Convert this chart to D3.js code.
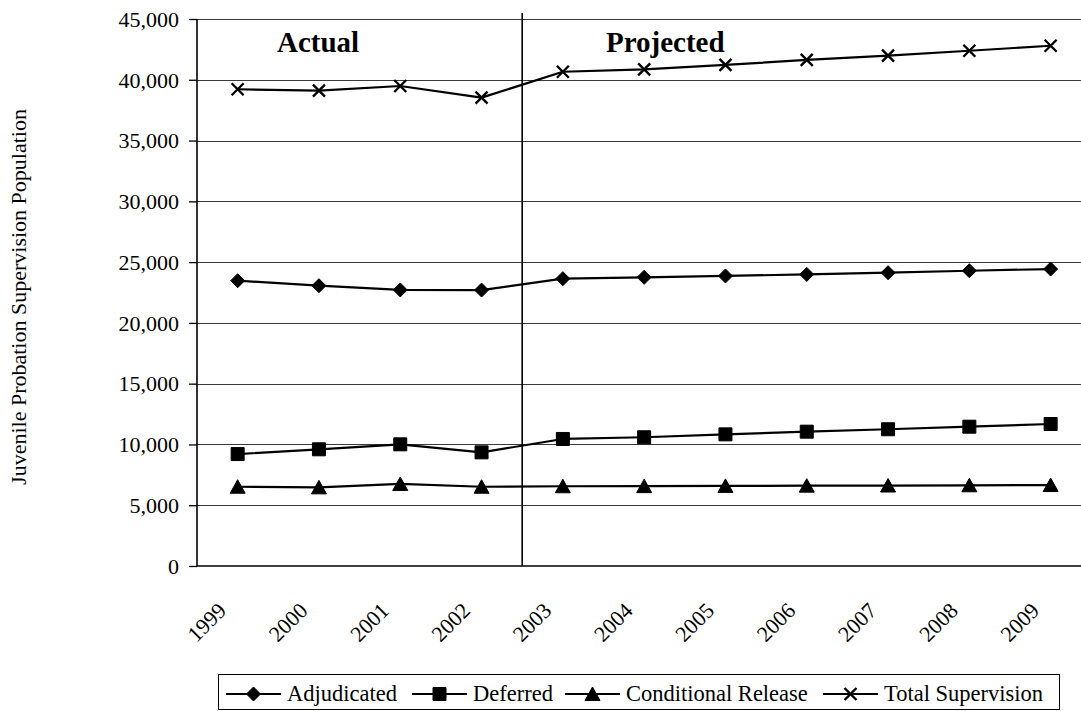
<!DOCTYPE html>
<html>
<head>
<meta charset="utf-8">
<script src="https://cdn.jsdelivr.net/npm/d3@7"></script>
<style>
  html, body { margin: 0; padding: 0; background: #fff; }
  svg { display: block; }
  svg text { font-family: "Liberation Serif", "Times New Roman", serif !important; }
</style>
</head>
<body>
<svg id="chart" width="1081" height="711"></svg>
<script>
// ---- data ----
const years = ["1999","2000","2001","2002","2003","2004","2005","2006","2007","2008","2009"];
const adjudicated = [23470, 23060, 22710, 22700, 23640, 23750, 23860, 23990, 24130, 24290, 24430];
const deferred    = [9210, 9600, 10010, 9350, 10450, 10590, 10830, 11050, 11250, 11460, 11680];
const conditional = [6520, 6470, 6750, 6520, 6560, 6570, 6590, 6610, 6620, 6640, 6660];
const total       = [39220, 39100, 39490, 38530, 40660, 40860, 41220, 41630, 41980, 42390, 42800];
const yTicks = [0, 5000, 10000, 15000, 20000, 25000, 30000, 35000, 40000, 45000];
const seriesNames = ["Adjudicated", "Deferred", "Conditional Release", "Total Supervision"];
const seriesMarkers = ["diamond", "square", "triangle", "cross"];
const periodLabels = ["Actual", "Projected"];
const dividerYear = "2003";
const yTitle = "Juvenile Probation Supervision Population";

const seriesData = [adjudicated, deferred, conditional, total];

// ---- layout ----
const FONT = "'Liberation Serif', 'Times New Roman', serif";
const svg = d3.select("#chart");
const plotLeft = 197, plotTop = 19, plotBottom = 566, band = 81.3;
const x = d3.scaleBand().domain(years).range([plotLeft, plotLeft + band * years.length]).padding(0);
const y = d3.scaleLinear().domain([0, 45000]).range([plotBottom, plotTop]);
const cx = d => x(d) + x.bandwidth() / 2;

const g = svg.append("g");

// gridlines
g.append("g").selectAll("line").data(yTicks.filter(v => v > 0)).join("line")
  .attr("x1", plotLeft).attr("x2", x.range()[1])
  .attr("y1", d => Math.round(y(d)) + 0.5).attr("y2", d => Math.round(y(d)) + 0.5)
  .attr("stroke", "#3a3a3a").attr("stroke-width", 1.1);

// y axis
const yAxis = d3.axisLeft(y).tickValues(yTicks).tickFormat(d3.format(",")).tickSize(8).tickPadding(10);
const ya = g.append("g").attr("transform", `translate(${plotLeft},0)`).call(yAxis)
  .attr("font-family", null).attr("font-size", null);
ya.select(".domain").remove();
ya.selectAll(".tick line").attr("stroke", "#000").attr("stroke-width", 1.3);
ya.selectAll(".tick text").style("font-family", FONT).style("font-size", "22px")
  .attr("fill", "#000").attr("dy", "0.33em");

// axis lines
g.append("line").attr("x1", plotLeft).attr("x2", plotLeft).attr("y1", plotTop).attr("y2", plotBottom)
  .attr("stroke", "#000").attr("stroke-width", 1.6);
g.append("line").attr("x1", plotLeft).attr("x2", x.range()[1]).attr("y1", plotBottom).attr("y2", plotBottom)
  .attr("stroke", "#000").attr("stroke-width", 1.6);

// divider between actual and projected
g.append("line").attr("x1", x(dividerYear)).attr("x2", x(dividerYear))
  .attr("y1", 13).attr("y2", plotBottom).attr("stroke", "#000").attr("stroke-width", 1.6);

// x labels
const xa = d3.axisBottom(x).tickSize(0).tickPadding(0);
const xg = g.append("g").attr("transform", `translate(0,${plotBottom})`).call(xa)
  .attr("font-family", null).attr("font-size", null);
xg.select(".domain").remove();
xg.selectAll(".tick text")
  .style("font-family", FONT).style("font-size", "22px").attr("fill", "#000")
  .attr("text-anchor", "end")
  .attr("dy", 0).attr("y", 0)
  .attr("transform", "translate(-10,46) rotate(-45)");

// period labels
g.append("text").attr("x", 277).attr("y", 52).style("font-family", FONT).style("font-size", "29px")
  .attr("font-weight", "bold").text(periodLabels[0]);
g.append("text").attr("x", 606).attr("y", 52).style("font-family", FONT).style("font-size", "29px")
  .attr("font-weight", "bold").text(periodLabels[1]);

// y title
g.append("text").attr("transform", `translate(26,297) rotate(-90)`)
  .attr("text-anchor", "middle").style("font-family", FONT).style("font-size", "22px").text(yTitle);

// markers
function markerPath(type) {
  if (type === "diamond") return "M0,-7L7,0L0,7L-7,0Z";
  if (type === "square") return "M-6.5,-6.5H6.5V6.5H-6.5Z";
  if (type === "triangle") return "M0,-7L7.5,6.5L-7.5,6.5Z";
  return "M-6,-6L6,6M-6,6L6,-6";
}
function drawMarker(sel, type) {
  const p = sel.append("path").attr("d", markerPath(type));
  if (type === "cross") p.attr("fill", "none").attr("stroke", "#000").attr("stroke-width", 2.4);
  else p.attr("fill", "#000").attr("stroke", "#000").attr("stroke-width", 1).attr("stroke-linejoin", "round");
  return p;
}

const line = d3.line().x((d, i) => cx(years[i])).y(d => y(d));
seriesData.forEach((vals, si) => {
  g.append("path").datum(vals).attr("d", line).attr("fill", "none")
    .attr("stroke", "#000").attr("stroke-width", 2.2).attr("stroke-linejoin", "round");
  vals.forEach((v, i) => {
    const mg = g.append("g").attr("transform", `translate(${cx(years[i])},${y(v)})`);
    drawMarker(mg, seriesMarkers[si]);
  });
});

// legend
const lg = svg.append("g");
lg.append("rect").attr("x", 218.5).attr("y", 674.5).attr("width", 841).attr("height", 35)
  .attr("fill", "#fff").attr("stroke", "#000").attr("stroke-width", 1);
const legendStarts = [226, 412, 565, 823];
const ly = 694;
seriesNames.forEach((name, i) => {
  const sx = legendStarts[i];
  lg.append("line").attr("x1", sx).attr("x2", sx + 55).attr("y1", ly).attr("y2", ly)
    .attr("stroke", "#000").attr("stroke-width", 2.2);
  const mg = lg.append("g").attr("transform", `translate(${sx + 27.5},${ly})`);
  drawMarker(mg, seriesMarkers[i]);
  lg.append("text").attr("x", sx + 61).attr("y", 701)
    .style("font-family", FONT).style("font-size", "22.5px").text(name);
});
</script>
</body>
</html>
